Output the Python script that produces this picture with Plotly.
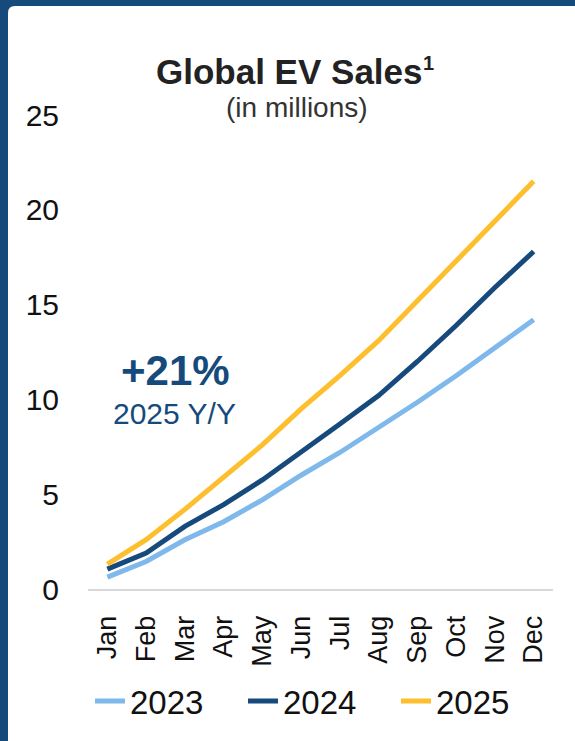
import plotly.graph_objects as go

months = ["Jan", "Feb", "Mar", "Apr", "May", "Jun", "Jul", "Aug", "Sep", "Oct", "Nov", "Dec"]
sales_2023 = [0.63, 1.45, 2.6, 3.55, 4.7, 6.0, 7.2, 8.5, 9.85, 11.25, 12.7, 14.2]
sales_2024 = [1.05, 1.9, 3.3, 4.45, 5.75, 7.2, 8.7, 10.2, 12.0, 13.9, 15.9, 17.8]
sales_2025 = [1.31, 2.6, 4.2, 5.9, 7.6, 9.5, 11.25, 13.1, 15.2, 17.25, 19.4, 21.5]
y_ticks = [0, 5, 10, 15, 20, 25]

W, H = 575, 741
L, R, T, B = 88, 22, 115, 148
PW, PH = W - L - R, H - T - B

def px(x):
    return (x - L) / PW

def py(y):
    return (H - B - y) / PH

FONT = "Liberation Sans, Arial, sans-serif"
C23, C24, C25 = "#7fb8ea", "#164a7c", "#fdbf2d"

fig = go.Figure()
for name, vals, col in [("2023", sales_2023, C23), ("2024", sales_2024, C24), ("2025", sales_2025, C25)]:
    fig.add_trace(go.Scatter(x=months, y=vals, name=name, mode="lines",
                             line=dict(color=col, width=5)))

# white rounded card on dark blue background
x0, x1, y0, y1 = px(8), px(590), py(760), py(5)
rx, ry = 7 / PW, 7 / PH
path = (f"M {x0},{y0} L {x0},{y1 - ry} Q {x0},{y1} {x0 + rx},{y1} "
        f"L {x1},{y1} L {x1},{y0} Z")
fig.add_shape(type="path", path=path, xref="paper", yref="paper",
              fillcolor="white", line=dict(width=0), layer="below")

fig.add_annotation(x=px(425), y=py(71), xref="paper", yref="paper",
                   text="<b>Global EV Sales</b>", showarrow=False,
                   font=dict(family=FONT, size=35, color="#222222"),
                   xanchor="right", yanchor="middle")
fig.add_annotation(x=px(421), y=py(63), xref="paper", yref="paper",
                   text="<b>1</b>", showarrow=False,
                   font=dict(family=FONT, size=20, color="#222222"),
                   xanchor="left", yanchor="middle")
fig.add_annotation(x=px(297), y=py(107), xref="paper", yref="paper",
                   text="(in millions)", showarrow=False,
                   font=dict(family=FONT, size=28, color="#333333"),
                   xanchor="center", yanchor="middle")
fig.add_annotation(x=px(175), y=py(373), xref="paper", yref="paper",
                   text="<b>+21%</b>", showarrow=False,
                   font=dict(family=FONT, size=42, color=C24),
                   xanchor="center", yanchor="middle")
fig.add_annotation(x=px(174), y=py(416), xref="paper", yref="paper",
                   text="2025 Y/Y", showarrow=False,
                   font=dict(family=FONT, size=30, color=C24),
                   xanchor="center", yanchor="middle")

fig.update_layout(
    width=W, height=H,
    margin=dict(l=L, r=R, t=T, b=B, pad=0),
    paper_bgcolor="#164a7c", plot_bgcolor="white",
    font=dict(family=FONT, color="#111111"),
    showlegend=True,
    legend=dict(orientation="h", x=px(90), y=py(706), xanchor="left", yanchor="middle",
                font=dict(family=FONT, size=33, color="#111111"),
                bgcolor="rgba(0,0,0,0)", itemwidth=30, tracegroupgap=0,
                entrywidth=108, entrywidthmode="pixels"),
    xaxis=dict(type="category", range=[-0.5, 11.5], showgrid=False, zeroline=False,
               showline=True, linecolor="#d9d9d9", linewidth=2, tickangle=-90,
               ticks="", ticklabelstandoff=14,
               tickfont=dict(family=FONT, size=27, color="#111111")),
    yaxis=dict(range=[0, 25], tickvals=y_ticks, showgrid=False, zeroline=False,
               showline=False, ticks="", ticklabelstandoff=28,
               tickfont=dict(family=FONT, size=30, color="#111111")),
)

fig.write_html("out.html", config={"displayModeBar": False},
               post_script="document.body.style.margin='0';")
